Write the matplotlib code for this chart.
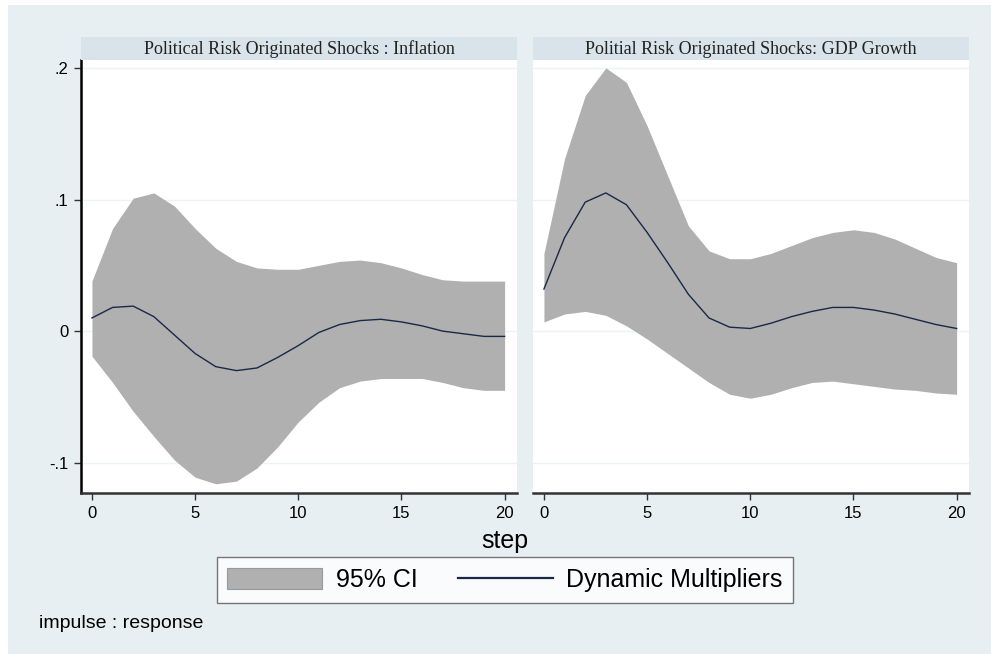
import numpy as np
import matplotlib.pyplot as plt
from matplotlib.patches import Rectangle
from matplotlib.lines import Line2D
from matplotlib.patches import Patch

# --- data ---
steps = np.arange(21)

infl_irf = [0.010, 0.018, 0.019, 0.011, -0.003, -0.017, -0.027, -0.030, -0.028, -0.020,
            -0.011, -0.001, 0.005, 0.008, 0.009, 0.007, 0.004, 0.000, -0.002, -0.004, -0.004]
infl_hi = [0.038, 0.078, 0.101, 0.105, 0.095, 0.078, 0.063, 0.053, 0.048, 0.047,
           0.047, 0.050, 0.053, 0.054, 0.052, 0.048, 0.043, 0.039, 0.038, 0.038, 0.038]
infl_lo = [-0.019, -0.039, -0.061, -0.080, -0.098, -0.111, -0.116, -0.114, -0.104, -0.088,
           -0.069, -0.054, -0.043, -0.038, -0.036, -0.036, -0.036, -0.039, -0.043, -0.045, -0.045]

gdp_irf = [0.032, 0.071, 0.098, 0.105, 0.096, 0.075, 0.052, 0.028, 0.010, 0.003,
           0.002, 0.006, 0.011, 0.015, 0.018, 0.018, 0.016, 0.013, 0.009, 0.005, 0.002]
gdp_hi = [0.059, 0.131, 0.179, 0.200, 0.189, 0.156, 0.118, 0.080, 0.061, 0.055,
          0.055, 0.059, 0.065, 0.071, 0.075, 0.077, 0.075, 0.070, 0.063, 0.056, 0.052]
gdp_lo = [0.007, 0.013, 0.015, 0.012, 0.004, -0.006, -0.017, -0.028, -0.039, -0.048,
          -0.051, -0.048, -0.043, -0.039, -0.038, -0.040, -0.042, -0.044, -0.045, -0.047, -0.048]

titles = ["Political Risk Originated Shocks : Inflation",
          "Politial Risk Originated Shocks: GDP Growth"]
yticks = [-0.1, 0, 0.1, 0.2]
ytick_labels = ["-.1", "0", ".1", ".2"]
xticks = [0, 5, 10, 15, 20]

# --- colours ---
bg = "#e8eff2"
strip = "#d9e4ea"
band = "#b0b0b0"
navy = "#1a2847"
axcol = "#333333"

sans = ["Liberation Sans Narrow", "Liberation Sans", "DejaVu Sans"]
serif = ["Liberation Serif", "DejaVu Serif"]

W, H = 991, 654
fig = plt.figure(figsize=(W / 100, H / 100), dpi=100)
fig.patch.set_facecolor("white")
fig.add_artist(Rectangle((8 / W, 0), 1 - 8 / W, 1 - 5 / H, transform=fig.transFigure,
                         facecolor=bg, edgecolor="none", zorder=-10))

panels = [(81, infl_irf, infl_hi, infl_lo), (533, gdp_irf, gdp_hi, gdp_lo)]
top, bottom = 60, 493
for i, (left, irf, hi, lo) in enumerate(panels):
    ax = fig.add_axes([left / W, 1 - bottom / H, 436 / W, (bottom - top) / H])
    ax.set_facecolor("white")
    ax.fill_between(steps, lo, hi, color=band, linewidth=0, zorder=2)
    ax.plot(steps, irf, color=navy, linewidth=1.0, zorder=3)
    ax.set_xlim(-0.53, 20.6)
    ax.set_ylim(-0.123, 0.206)
    for yv in yticks:
        ax.axhline(yv, color="#eef2f2", linewidth=1.0, zorder=1)
    for s in ["top", "right"]:
        ax.spines[s].set_visible(False)
    ax.spines["bottom"].set_color(axcol)
    ax.spines["bottom"].set_linewidth(1.8)
    ax.set_xticks(xticks)
    ax.set_xticklabels([str(v) for v in xticks], fontsize=12, family=sans)
    ax.tick_params(axis="x", length=5, width=1, color=axcol, pad=4)
    if i == 0:
        ax.spines["left"].set_color("black")
        ax.spines["left"].set_linewidth(1.8)
        ax.set_yticks(yticks)
        ax.set_yticklabels(ytick_labels, fontsize=12, family=sans)
        ax.tick_params(axis="y", length=5, width=1, color=axcol, pad=4)
    else:
        ax.spines["left"].set_visible(False)
        ax.set_yticks([])
    # title strip
    fig.add_artist(Rectangle((left / W, 1 - top / H), 436 / W, 23 / H,
                             transform=fig.transFigure, facecolor=strip, edgecolor="none"))
    fig.text((left + 218) / W, 1 - 49 / H, titles[i], ha="center", va="center",
             fontsize=13, family=serif, color="#222222")

fig.text(505 / W, 1 - 541 / H, "step", ha="center", va="center", fontsize=18, family=sans)

handles = [Patch(facecolor=band, edgecolor="#999999", linewidth=0.8),
           Line2D([0], [0], color=navy, linewidth=1.6)]
leg = fig.legend(handles, ["95% CI", "Dynamic Multipliers"], loc="center",
                 bbox_to_anchor=(505 / W, 1 - 580 / H), ncol=2, frameon=True,
                 fancybox=False, prop={"family": sans, "size": 18},
                 handlelength=3.8, handleheight=0.95, columnspacing=1.6,
                 handletextpad=0.55, borderpad=0.42, borderaxespad=0)
leg.get_frame().set_edgecolor("#555555")
leg.get_frame().set_linewidth(1.0)

fig.text(39 / W, 1 - 623 / H, "impulse : response", ha="left", va="center",
         fontsize=14, family=sans)

fig.savefig("out.png", dpi=100)
